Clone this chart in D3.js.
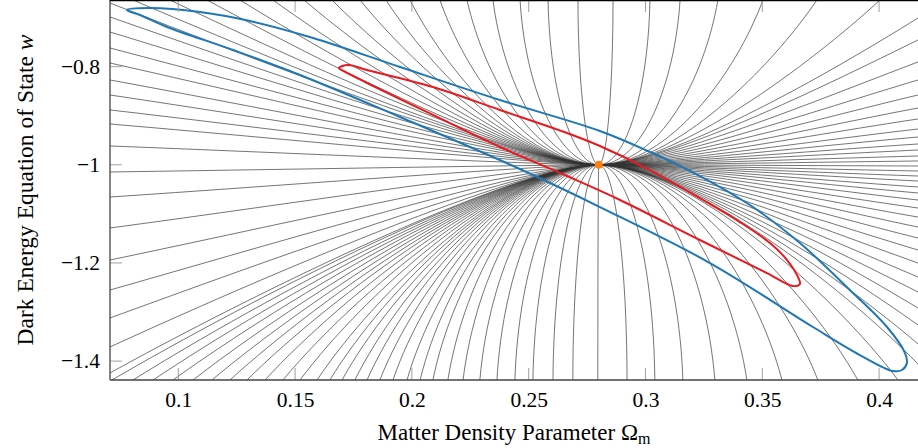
<!DOCTYPE html>
<html>
<head>
<meta charset="utf-8">
<script src="https://cdn.jsdelivr.net/npm/d3@7"></script>
<style>
  body { margin: 0; background: #fff; }
  text { font-family: "Liberation Serif", "DejaVu Serif", serif; fill: #000; }
</style>
</head>
<body>
<div id="chart"></div>
<script>
////////////////////////////////////////////////////////////////
// Data

// fiducial model (orange point)
const fiducial = [0.28, -1.0];

// where each grey degeneracy curve leaves the frame
const topExitOm = [0.0806, 0.0964, 0.1123, 0.1264, 0.1405, 0.1538, 0.1658, 0.1778,
  0.1889, 0.1992, 0.2120, 0.2236, 0.2347, 0.2463, 0.2583, 0.2711, 0.2861, 0.3019,
  0.3148, 0.3310, 0.3503, 0.3734, 0.4004];
const bottomExitOm = [0.0716, 0.0806, 0.0892, 0.0977, 0.1063, 0.1144, 0.1221, 0.1294,
  0.1371, 0.1448, 0.1521, 0.1594, 0.1649, 0.1701, 0.1756, 0.1808, 0.1863, 0.1919,
  0.1979, 0.2035, 0.2090, 0.2154, 0.2219, 0.2291, 0.2364, 0.2441, 0.2518, 0.2604,
  0.2689, 0.2796, 0.2921, 0.3040, 0.3160, 0.3297, 0.3434, 0.3584, 0.3738, 0.3909, 0.4081];
const leftExitW = [-0.6702, -0.6987, -0.7293, -0.7619, -0.7925, -0.8271, -0.8577, -0.8882,
  -0.9168, -0.9616, -1.0146, -1.0656, -1.1287, -1.1939, -1.2551, -1.3121, -1.3712, -1.4242];
const rightExitW = [-0.7008, -0.7456, -0.7904, -0.8271, -0.8577, -0.8842, -0.9066, -0.9270,
  -0.9433, -0.9575, -0.9698, -0.9820, -0.9922, -1.0024, -1.0126, -1.0228, -1.0330, -1.0452,
  -1.0574, -1.0717, -1.0880, -1.1064, -1.1268, -1.1492, -1.1736, -1.2001, -1.2286, -1.2592,
  -1.2918, -1.3264, -1.3651, -1.4059];

// outer (blue) contour, clockwise from the upper-left tip
const blueOm = [0.0780, 0.0879, 0.1093, 0.1307, 0.1577, 0.1949, 0.2377, 0.2805, 0.3019,
  0.3233, 0.3447, 0.3661, 0.3875, 0.4034, 0.4111, 0.4119, 0.4098, 0.4059, 0.3918, 0.3717,
  0.3276, 0.2805, 0.2462, 0.1949, 0.1521, 0.1234, 0.0952, 0.0836];
const blueW = [-0.6844, -0.6804, -0.6885, -0.7069, -0.7415, -0.8006, -0.8679, -0.9310, -0.9738,
  -1.0228, -1.0819, -1.1593, -1.2551, -1.3305, -1.3835, -1.4039, -1.4181, -1.4202, -1.3876, -1.3305,
  -1.2001, -1.0860, -1.0085, -0.9025, -0.8169, -0.7660, -0.7191, -0.6947];

// inner (red) contour, clockwise from the upper-left tip
const redOm = [0.1688, 0.1727, 0.1808, 0.2090, 0.2377, 0.2664, 0.2805, 0.3019, 0.3246, 0.3404,
  0.3533, 0.3606, 0.3653, 0.3661, 0.3631, 0.3520, 0.3233, 0.2891, 0.2664, 0.2377, 0.2090,
  0.1808, 0.1714];
const redW = [-0.8026, -0.7965, -0.8067, -0.8414, -0.8882, -0.9351, -0.9616, -1.0106, -1.0717, -1.1166,
  -1.1593, -1.1940, -1.2287, -1.2430, -1.2470, -1.2205, -1.1532, -1.0717, -1.0228, -0.9636, -0.8984,
  -0.8332, -0.8108];

const xTicks = [0.1, 0.15, 0.2, 0.25, 0.3, 0.35, 0.4];
const yTicks = [-0.8, -1, -1.2, -1.4];

////////////////////////////////////////////////////////////////
// Setup

const width = 918, height = 448;
const plot = { left: 110, right: 918, top: 0, bottom: 380 };

const x = d3.scaleLinear().domain([0.07076, 0.41666]).range([plot.left, plot.right]);
const y = d3.scaleLinear().domain([-1.4385, -0.6641]).range([plot.bottom, plot.top]);

let svg = d3.select("#chart").append("svg")
  .attr("width", width)
  .attr("height", height);

svg.append("clipPath").attr("id", "clip")
  .append("rect")
  .attr("x", plot.left).attr("y", plot.top)
  .attr("width", plot.right - plot.left)
  .attr("height", plot.bottom - plot.top);

let g = svg.append("g").attr("clip-path", "url(#clip)");

////////////////////////////////////////////////////////////////
// Grey curves: each runs from the fiducial point to its exit point.
// All leave the fiducial horizontally (giving the lens shape there);
// the steep ones bend like a quarter ellipse.

let exits = [];
topExitOm.forEach(v => exits.push([v, y.domain()[1]]));
bottomExitOm.forEach(v => exits.push([v, y.domain()[0]]));
leftExitW.forEach(v => exits.push([x.domain()[0], v]));
rightExitW.forEach(v => exits.push([x.domain()[1], v]));

function arm(e) {
  let x0 = x(fiducial[0]), y0 = y(fiducial[1]);
  let dx = x(e[0]) - x0, dy = y(e[1]) - y0;
  let s = Math.sin(Math.atan2(Math.abs(dy), Math.abs(dx)));
  let b = s * s;
  let sx = dx < 0 ? -1 : 1, ax = Math.abs(dx);
  let h = Math.min(50, 0.45 * ax);
  let c1x = sx * (h + b * (0.552 * ax - h));
  let c2x = dx * (2 / 3 + b / 3);
  let c2y = dy * (2 / 3 + b * (0.448 - 2 / 3));
  let p = d3.path();
  p.moveTo(x0, y0);
  p.bezierCurveTo(x0 + c1x, y0, x0 + c2x, y0 + c2y, x0 + dx, y0 + dy);
  return p.toString();
}

g.selectAll("path.deg")
  .data(exits)
  .enter()
  .append("path")
  .attr("class", "deg")
  .attr("d", arm)
  .attr("fill", "none")
  .attr("stroke", "#333")
  .attr("stroke-width", 0.8)
  .attr("stroke-opacity", 0.85);

////////////////////////////////////////////////////////////////
// Contours

let contour = d3.line()
  .x(d => x(d[0]))
  .y(d => y(d[1]))
  .curve(d3.curveCatmullRomClosed.alpha(0.5));

g.append("path")
  .attr("d", contour(d3.zip(blueOm, blueW)))
  .attr("fill", "none")
  .attr("stroke", "#1f77b4")
  .attr("stroke-width", 2);

g.append("path")
  .attr("d", contour(d3.zip(redOm, redW)))
  .attr("fill", "none")
  .attr("stroke", "#e8191f")
  .attr("stroke-width", 2);

g.append("circle")
  .attr("cx", x(fiducial[0]))
  .attr("cy", y(fiducial[1]))
  .attr("r", 4)
  .attr("fill", "#ff7f0e");

////////////////////////////////////////////////////////////////
// Axes

let fmt = d => d3.format("~g")(d).replace("-", "\u2212");
let xAxis = d3.axisBottom(x).tickValues(xTicks).tickSize(0).tickFormat(fmt);
let yAxis = d3.axisLeft(y).tickValues(yTicks).tickSize(0).tickFormat(fmt);

// tick marks inside the frame
let tickColor = "#a0a0a0";
xTicks.forEach(t => {
  svg.append("line").attr("x1", x(t)).attr("x2", x(t))
    .attr("y1", plot.bottom).attr("y2", plot.bottom - 12)
    .attr("stroke", tickColor).attr("stroke-width", 1);
  svg.append("line").attr("x1", x(t)).attr("x2", x(t))
    .attr("y1", plot.top).attr("y2", plot.top + 12)
    .attr("stroke", tickColor).attr("stroke-width", 1);
});
yTicks.forEach(t => {
  svg.append("line").attr("x1", plot.left).attr("x2", plot.left + 12)
    .attr("y1", y(t)).attr("y2", y(t))
    .attr("stroke", tickColor).attr("stroke-width", 1);
});

let gx = svg.append("g")
  .attr("transform", `translate(0,${plot.bottom})`)
  .call(xAxis);
gx.select(".domain").remove();
gx.selectAll("text").attr("dy", "1.1em").style("font-size", "21.5px").style("font-family", "Liberation Serif");

let gy = svg.append("g")
  .attr("transform", `translate(${plot.left},0)`)
  .call(yAxis);
gy.select(".domain").remove();
gy.selectAll("text").attr("x", -10).style("font-size", "21.5px").style("font-family", "Liberation Serif");

// frame
svg.append("line").attr("x1", plot.left).attr("x2", plot.left)
  .attr("y1", plot.top).attr("y2", plot.bottom)
  .attr("stroke", "#444").attr("stroke-width", 1.3);
svg.append("line").attr("x1", plot.left).attr("x2", plot.right)
  .attr("y1", plot.bottom).attr("y2", plot.bottom)
  .attr("stroke", "#444").attr("stroke-width", 1.3);
svg.append("line").attr("x1", plot.left).attr("x2", plot.right)
  .attr("y1", 0.6).attr("y2", 0.6)
  .attr("stroke", "#000").attr("stroke-width", 1.3);

// axis labels
let xl = svg.append("text")
  .attr("x", (plot.left + plot.right) / 2)
  .attr("y", 440)
  .attr("text-anchor", "middle")
  .style("font-size", "23px");
xl.append("tspan").text("Matter Density Parameter \u03A9");
xl.append("tspan").attr("dy", 4).style("font-size", "16px").text("m");

let yl = svg.append("text")
  .attr("transform", `translate(33,${(plot.top + plot.bottom) / 2}) rotate(-90)`)
  .attr("text-anchor", "middle")
  .style("font-size", "23.5px");
yl.append("tspan").text("Dark Energy Equation of State ");
yl.append("tspan").style("font-style", "italic").text("w");
</script>
</body>
</html>
